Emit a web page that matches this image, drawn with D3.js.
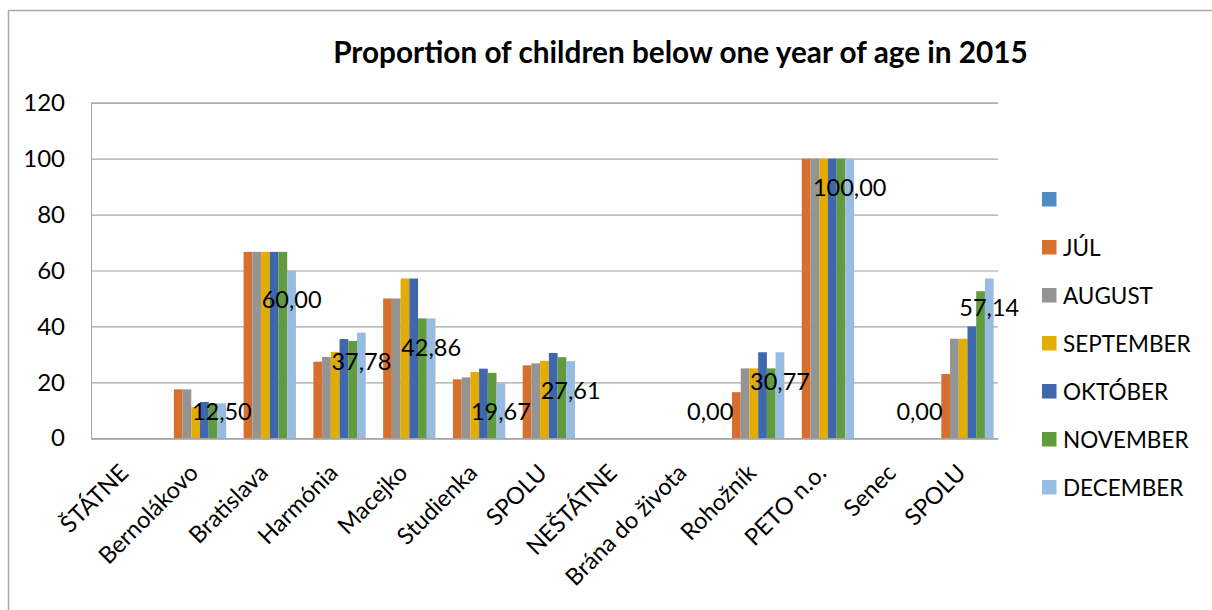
<!DOCTYPE html>
<html><head><meta charset="utf-8">
<script src="https://cdn.jsdelivr.net/npm/d3@7"></script>
<style>
html,body{margin:0;padding:0;background:#fff;}
svg{display:block;font-family:Lato,"Open Sans",sans-serif;}
</style></head>
<body>
<svg id="chart" width="1212" height="610"></svg>
<script>
const title = "Proportion of children below one year of age in 2015";
const categories = ["ŠTÁTNE","Bernolákovo","Bratislava","Harmónia","Macejko","Studienka","SPOLU","NEŠTÁTNE","Brána do života","Rohožník","PETO n.o.","Senec","SPOLU"];
const seriesNames = ["", "JÚL", "AUGUST", "SEPTEMBER", "OKTÓBER", "NOVEMBER", "DECEMBER"];
const seriesColors = ["#4F8CC4", "#D5702E", "#949494", "#E2AC00", "#3F67AE", "#629B3E", "#98BBE2"];
const blank = [null,null,null,null,null,null,null,null,null,null,null,null,null];
const jul = [null,17.5,66.67,27.4,50,21.1,26.1,null,0,16.5,100,0,23.0];
const aug = [null,17.5,66.67,29.1,50,21.8,26.8,null,0,25,100,0,35.6];
const sep = [null,11.1,66.67,30.9,57.14,23.7,27.7,null,0,25,100,0,35.6];
const okt = [null,13.0,66.67,35.5,57.14,24.9,30.5,null,0,30.77,100,0,40];
const nov = [null,12.5,66.67,34.8,42.86,23.4,29.0,null,0,25,100,0,52.6];
const dec = [null,12.5,60,37.78,42.86,19.67,27.61,null,0,30.77,100,0,57.14];
const yTicks = [0,20,40,60,80,100,120];

const seriesValues = [blank, jul, aug, sep, okt, nov, dec];
const labelSeries = 6;

const svg = d3.select("#chart");
const plot = {left: 91, right: 998, top: 102.7, bottom: 438.3};

// chart border (cropped at right/bottom)
svg.append("rect").attr("x", 8.5).attr("y", 10.5).attr("width", 1300).attr("height", 700)
  .attr("fill", "#fff").attr("stroke", "#ABABAB").attr("stroke-width", 1.5);

const x = d3.scaleBand().domain(d3.range(categories.length)).range([plot.left, plot.right]).paddingInner(0).paddingOuter(0);
const xs = d3.scaleBand().domain(d3.range(seriesNames.length)).range([0, x.bandwidth()]).paddingInner(0).paddingOuter(0.5);
const y = d3.scaleLinear().domain([0, 120]).range([plot.bottom, plot.top]);

// gridlines + y labels
const yAxis = d3.axisLeft(y).tickValues(yTicks).tickSize(-(plot.right - plot.left)).tickPadding(26).tickFormat(d3.format("d"));
const gy = svg.append("g").attr("transform", `translate(${plot.left},0)`).call(yAxis);
gy.select(".domain").attr("stroke", "#A6A6A6");
gy.selectAll(".tick line").attr("stroke", "#A6A6A6").attr("stroke-width", 1.2);
gy.selectAll(".tick text").attr("font-size", 24).attr("fill", "#000").attr("font-family", "Lato");

// bars
const groups = svg.append("g").selectAll("g").data(seriesValues).join("g")
  .attr("fill", (d, i) => seriesColors[i]);
groups.each(function(vals, si) {
  d3.select(this).selectAll("rect").data(vals.map((v, ci) => ({v, ci})).filter(d => d.v !== null && d.v > 0))
    .join("rect")
    .attr("x", d => x(d.ci) + xs(si))
    .attr("width", xs.bandwidth())
    .attr("y", d => y(d.v))
    .attr("height", d => y(0) - y(d.v));
});

// x axis
const xAxis = d3.axisBottom(x).tickSize(0).tickFormat(i => categories[i]);
const gx = svg.append("g").attr("transform", `translate(0,${plot.bottom})`).call(xAxis);
gx.select(".domain").attr("stroke", "#A6A6A6").attr("stroke-width", 1.2);
gx.selectAll(".tick text")
  .attr("font-size", 23.5).attr("fill", "#000").attr("font-family", "Lato")
  .attr("text-anchor", "end")
  .attr("y", 0).attr("dy", 0)
  .attr("transform", "translate(4,36) rotate(-45)");

// data labels (DECEMBER)
const fmt = v => d3.format(".2f")(v).replace(".", ",");
svg.append("g").selectAll("text")
  .data(seriesValues[labelSeries].map((v, ci) => ({v, ci})).filter(d => d.v !== null))
  .join("text")
  .attr("x", d => x(d.ci) + xs(labelSeries) + xs.bandwidth() / 2)
  .attr("y", d => Math.min(y(d.v) + 29, y(0) - 27))
  .attr("dy", "0.36em")
  .attr("text-anchor", "middle")
  .attr("font-size", 23.5).attr("fill", "#000").attr("font-family", "Lato")
  .text(d => fmt(d.v));

// title
const t = svg.append("text").attr("x", 680.5).attr("y", 63).attr("text-anchor", "middle")
  .attr("font-weight", "bold").attr("font-size", 24).attr("font-family", "Lato").attr("fill", "#000").text(title);
const tw = t.node().getComputedTextLength();
t.attr("font-size", 24 * 695 / tw);

// legend
const lg = svg.append("g").selectAll("g").data(seriesNames).join("g")
  .attr("transform", (d, i) => `translate(1042,${192 + i * 48})`);
lg.append("rect").attr("width", 14.5).attr("height", 14.5).attr("fill", (d, i) => seriesColors[i]);
lg.append("text").attr("x", 21).attr("y", 7.5).attr("dy", "0.36em")
  .attr("font-size", 22.5).attr("font-family", "Lato").attr("fill", "#000").text(d => d);
</script>
</body></html>
